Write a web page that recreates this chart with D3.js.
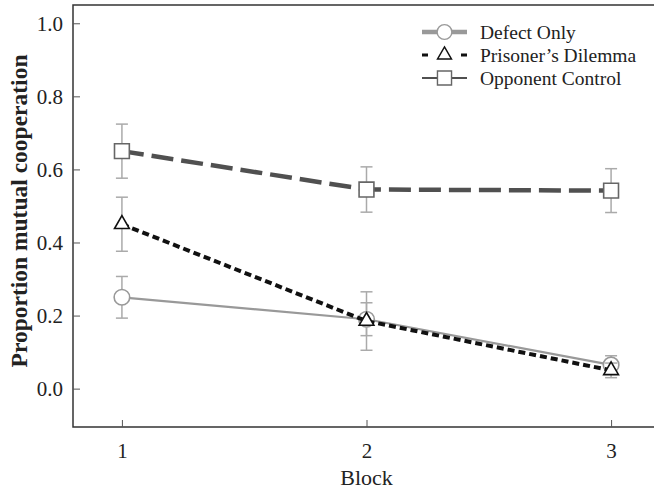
<!DOCTYPE html>
<html>
<head>
<meta charset="utf-8">
<script src="https://cdn.jsdelivr.net/npm/d3@7"></script>
<style>
  body { margin: 0; background: #fff; }
  svg { font-family: "Liberation Serif", "DejaVu Serif", serif; }
</style>
</head>
<body>
<div id="chart"></div>
<script>
// values
var blocks = [1, 2, 3];
var seriesNames = ["Defect Only", "Prisoner\u2019s Dilemma", "Opponent Control"];
var defectOnly = [0.25, 0.19, 0.065];
var defectOnlyErr = [0.057, 0.045, 0.025];
var prisoners = [0.45, 0.185, 0.05];
var prisonersErr = [0.074, 0.08, 0.02];
var opponent = [0.65, 0.545, 0.542];
var opponentErr = [0.074, 0.062, 0.06];
var yTicks = [0.0, 0.2, 0.4, 0.6, 0.8, 1.0];

var width = 654, height = 492;
var plotLeft = 73, plotTop = 5, plotRight = 660, plotBottom = 427;

var svg = d3.select('#chart').append('svg')
    .attr('width', width)
    .attr('height', height);

var x = d3.scaleLinear().domain([0.8, 3.2]).range([plotLeft, plotRight]);
var y = d3.scaleLinear().domain([-0.105, 1.05]).range([plotBottom, plotTop]);

// frame (left, bottom, top)
svg.append('path')
    .attr('d', 'M' + plotRight + ',' + plotTop + 'H' + plotLeft + 'V' + plotBottom + 'H' + plotRight)
    .attr('fill', 'none')
    .attr('stroke', '#333')
    .attr('stroke-width', 1.5);

var yAxis = d3.axisRight(y).tickValues(yTicks).tickSize(7).tickFormat(d3.format('.1f'));
var gy = svg.append('g').attr('transform', 'translate(' + plotLeft + ',0)').call(yAxis)
    .attr('font-family', null);
gy.select('.domain').remove();
gy.selectAll('line').attr('stroke', '#555');
gy.selectAll('text')
    .attr('x', -10)
    .attr('text-anchor', 'end')
    .attr('font-size', 21)
    .attr('fill', '#222');

var xAxis = d3.axisTop(x).tickValues(blocks).tickSize(7).tickFormat(d3.format('d'));
var gx = svg.append('g').attr('transform', 'translate(0,' + plotBottom + ')').call(xAxis)
    .attr('font-family', null);
gx.select('.domain').remove();
gx.selectAll('line').attr('stroke', '#555');
gx.selectAll('text')
    .attr('y', 31)
    .attr('dy', '0')
    .attr('font-size', 21)
    .attr('fill', '#222');

svg.append('text')
    .attr('x', x(2))
    .attr('y', 485)
    .attr('text-anchor', 'middle')
    .attr('font-size', 22)
    .attr('fill', '#222')
    .text('Block');

svg.append('text')
    .attr('transform', 'translate(27,211) rotate(-90)')
    .attr('text-anchor', 'middle')
    .attr('font-size', 23.5)
    .attr('font-weight', 'bold')
    .attr('fill', '#222')
    .text('Proportion mutual cooperation');

var series = [
    { name: seriesNames[0], vals: defectOnly, err: defectOnlyErr, color: '#999', width: 2.2, dash: null, shape: d3.symbolCircle, size: 190, mstroke: '#999', legendWidth: 4.5, legendDash: null },
    { name: seriesNames[1], vals: prisoners, err: prisonersErr, color: '#111', width: 4, dash: '7,4', shape: d3.symbolTriangle, size: 95, mstroke: '#111', legendWidth: 3, legendDash: '6,33' },
    { name: seriesNames[2], vals: opponent, err: opponentErr, color: '#505050', width: 4.5, dash: '22,8', shape: d3.symbolSquare, size: 220, mstroke: '#666', legendWidth: 2, legendDash: null }
];

var line = d3.line()
    .x(function(d, i) { return x(blocks[i]); })
    .y(function(d) { return y(d); });

series.forEach(function(s) {
    var g = svg.append('g');
    // error bars
    s.vals.forEach(function(v, i) {
        var cx = x(blocks[i]);
        var y1 = y(v + s.err[i]), y2 = y(v - s.err[i]);
        g.append('line').attr('x1', cx).attr('x2', cx).attr('y1', y1).attr('y2', y2)
            .attr('stroke', '#aaa').attr('stroke-width', 1.5);
        [y1, y2].forEach(function(yy) {
            g.append('line').attr('x1', cx - 6).attr('x2', cx + 6).attr('y1', yy).attr('y2', yy)
                .attr('stroke', '#aaa').attr('stroke-width', 1.5);
        });
    });
    g.append('path')
        .attr('d', line(s.vals))
        .attr('fill', 'none')
        .attr('stroke', s.color)
        .attr('stroke-width', s.width)
        .attr('stroke-dasharray', s.dash);
    g.selectAll('.mark').data(s.vals).enter().append('path')
        .attr('class', 'mark')
        .attr('transform', function(d, i) { return 'translate(' + x(blocks[i]) + ',' + y(d) + ')'; })
        .attr('d', d3.symbol().type(s.shape).size(s.size))
        .attr('fill', '#fff')
        .attr('stroke', s.mstroke)
        .attr('stroke-width', 1.6);
});

// legend
var legend = svg.append('g').attr('transform', 'translate(422,32)');
series.forEach(function(s, i) {
    var row = legend.append('g').attr('transform', 'translate(0,' + (i * 23) + ')');
    row.append('line').attr('x1', 0).attr('x2', 45).attr('y1', 0).attr('y2', 0)
        .attr('stroke', s.color)
        .attr('stroke-width', s.legendWidth)
        .attr('stroke-dasharray', s.legendDash);
    row.append('path')
        .attr('transform', 'translate(22.5,0)')
        .attr('d', d3.symbol().type(s.shape).size(s.size * 0.9))
        .attr('fill', '#fff')
        .attr('stroke', s.mstroke)
        .attr('stroke-width', 1.4);
    row.append('text')
        .attr('x', 58)
        .attr('y', 6.5)
        .attr('font-size', 19.5)
        .attr('fill', '#222')
        .text(s.name);
});
</script>
</body>
</html>
